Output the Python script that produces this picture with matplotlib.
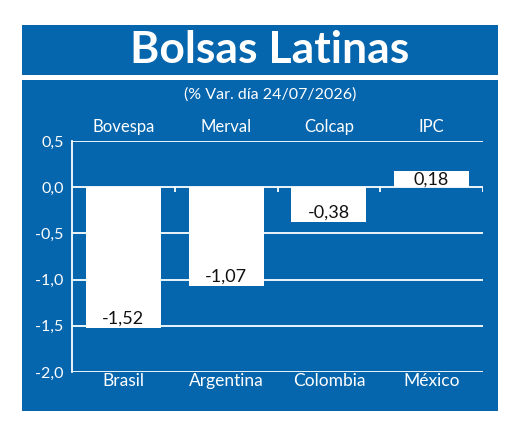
import matplotlib.pyplot as plt
import matplotlib.patches as patches
import numpy as np
from matplotlib.ticker import FuncFormatter

indices = ["Bovespa", "Merval", "Colcap", "IPC"]
countries = ["Brasil", "Argentina", "Colombia", "México"]
values = [-1.52, -1.07, -0.38, 0.18]
yticks = [0.5, 0.0, -0.5, -1.0, -1.5, -2.0]

BLUE = "#0565ad"
W, H = 520, 430

plt.rcParams["font.family"] = ["Lato", "DejaVu Sans"]


def fx(px):
    return px / W


def fy(py):
    return 1 - py / H


fig = plt.figure(figsize=(W / 100, H / 100), dpi=100, facecolor="white")

# title band and chart panel
fig.patches.append(patches.Rectangle((fx(22), fy(75)), fx(476), 50 / H, transform=fig.transFigure,
                                     facecolor=BLUE, edgecolor="none", zorder=-5))
fig.patches.append(patches.Rectangle((fx(22), fy(411)), fx(476), 331 / H, transform=fig.transFigure,
                                     facecolor=BLUE, edgecolor="none", zorder=-5))
fig.text(fx(270), fy(50), "Bolsas Latinas", color="white", fontsize=32, weight="bold",
         ha="center", va="center")
fig.text(fx(270), fy(95), "(% Var. día 24/07/2026)", color="white", fontsize=11.5,
         ha="center", va="center")

ax = fig.add_axes([fx(72), fy(372), fx(483 - 72), (372 - 141) / H])
ax.set_zorder(5)
ax.set_facecolor(BLUE)
x = np.arange(len(values))
ax.set_xlim(-0.5, len(values) - 0.5)
ax.set_ylim(-2.0, 0.5)

for y in yticks:
    ax.axhline(y, color="white", lw=1.3, zorder=1)
# small ticks on the zero line between categories
ax.vlines(x + 0.5, -0.05, 0, color="white", lw=1.3, zorder=1)

bars = ax.bar(x, values, width=0.73, color="white", zorder=2)
for xi, v in zip(x, values):
    off = 0.1 if v < 0 else -0.1
    ax.text(xi, v + off, f"{v:.2f}".replace(".", ","), ha="center", va="center",
            fontsize=13, color="#111111", zorder=3)

ax.set_yticks(yticks)
ax.yaxis.set_major_formatter(FuncFormatter(lambda v, p: f"{v:.1f}".replace(".", ",")))
ax.tick_params(axis="y", length=0, colors="white", labelsize=11.5, pad=6)
ax.set_xticks(x)
ax.set_xticklabels(countries)
ax.tick_params(axis="x", length=0, colors="white", labelsize=12.5, pad=1)
for xi, name in zip(x, indices):
    ax.text(xi, 0.57, name, ha="center", va="bottom", color="white", fontsize=12)

for side in ["top", "right", "bottom"]:
    ax.spines[side].set_visible(False)
ax.spines["left"].set_color("white")
ax.spines["left"].set_linewidth(1.3)

fig.savefig("out.png", dpi=100, facecolor="white")
